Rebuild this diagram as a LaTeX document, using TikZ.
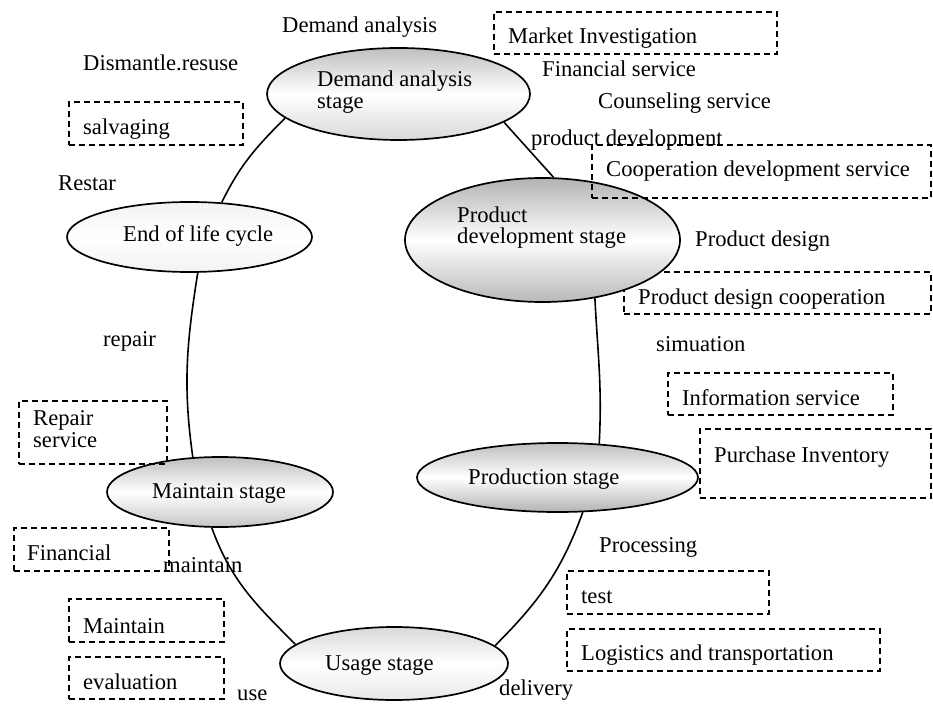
\documentclass[tikz,border=0pt]{standalone}
\usepackage{fontspec}
\setmainfont{Liberation Serif}
\usetikzlibrary{shapes.geometric}
\begin{document}
\begin{tikzpicture}[x=1pt,y=-1pt,
  lbl/.style={inner sep=0pt, anchor=base west, font=\fontsize{22.6}{22}\selectfont},
  mlbl/.style={inner sep=0pt, anchor=north west, align=left, font=\fontsize{22.6}{22}\selectfont},
  stage/.style={ellipse, draw, line width=1.7pt, inner sep=0pt},
  dbox/.style={draw, dash pattern=on 6pt off 4pt, line width=1.7pt, inner sep=0pt, anchor=north west},
  conn/.style={line width=1.6pt}]
\useasboundingbox (0,0) rectangle (933,708);

% box beneath the product development ellipse
\node[dbox, minimum width=307pt, minimum height=42pt] (bD) at (623,271) {};

% stages
\node[stage, minimum width=263pt, minimum height=92pt, top color=gray!50, bottom color=gray!30, middle color=white] (dem) at (398.5,94) {};
\node[stage, minimum width=275pt, minimum height=124pt, top color=gray!60, bottom color=gray!55, middle color=white] (pd) at (542.5,240) {};
\node[stage, minimum width=245pt, minimum height=70pt, top color=gray!10, bottom color=gray!10, middle color=white] (eol) at (189.5,237) {};
\node[stage, minimum width=281pt, minimum height=69pt, top color=gray!50, bottom color=gray!60, middle color=white] (prod) at (557.5,477.5) {};
\node[stage, minimum width=226pt, minimum height=70pt, top color=gray!50, bottom color=gray!45, middle color=white] (mnt) at (220,492) {};
\node[stage, minimum width=228pt, minimum height=73pt, top color=gray!30, bottom color=gray!18, middle color=white] (use) at (394,663.5) {};

% connectors
\draw[conn] (dem.192.7) to[out=225,in=64] (eol.47);
\draw[conn] (eol.283.7) to[out=261,in=98] (mnt.128.7);
\draw[conn] (mnt.257) to[out=290,in=135] (use.169.7);
\draw[conn] (use.10.2) to[out=45,in=250] (prod.306.5);
\draw[conn] (prod.39) to[out=87,in=273] (pd.312.8);
\draw[conn] (dem.345.4) -- (pd.80.4);

% dashed boxes
\node[dbox, minimum width=283pt, minimum height=42pt] (bA) at (493,11) {};
\node[dbox, minimum width=174pt, minimum height=43pt] (bB) at (68,101) {};
\node[dbox, minimum width=339pt, minimum height=53pt] (bC) at (591,144) {};
\node[dbox, minimum width=225pt, minimum height=42pt] (bE) at (667,372) {};
\node[dbox, minimum width=231pt, minimum height=69pt] (bF) at (699,428) {};
\node[dbox, minimum width=202pt, minimum height=43pt] (bG) at (566,570) {};
\node[dbox, minimum width=313pt, minimum height=42pt] (bH) at (566,628) {};
\node[dbox, minimum width=148pt, minimum height=63pt] (bI) at (18,400) {};
\node[dbox, minimum width=155pt, minimum height=43pt] (bJ) at (13,527) {};
\node[dbox, minimum width=155pt, minimum height=43pt] (bK) at (68,598) {};
\node[dbox, minimum width=155pt, minimum height=42pt] (bL) at (68,656) {};

% stage texts
\node[mlbl] (tdem) at (317,70.6) {Demand analysis\\stage};
\node[mlbl, font=\fontsize{22.6}{21}\selectfont] (tpd) at (457,206.6) {Product\\development stage};
\node[lbl] (teol) at (123,242) {End of life cycle};
\node[lbl] (tprod) at (468,484) {Production stage};
\node[lbl] (tmnt) at (152,498) {Maintain stage};
\node[lbl] (tuse) at (325,670) {Usage stage};

% box texts
\node[lbl] (tA) at (508,44) {Market Investigation};
\node[lbl] (tB) at (83,135) {salvaging};
\node[lbl] (tC) at (606,177) {Cooperation development service};
\node[lbl] (tD) at (638,304) {Product design cooperation};
\node[lbl] (tE) at (682,405) {Information service};
\node[lbl] (tF) at (714,462) {Purchase Inventory};
\node[lbl] (tG) at (581,603) {test};
\node[lbl] (tH) at (581,660) {Logistics and transportation};
\node[mlbl] (tI) at (33,410.6) {Repair\\service};
\node[lbl] (tJ) at (27,560) {Financial};
\node[lbl] (tK) at (83,633) {Maintain};
\node[lbl] (tL) at (83,689) {evaluation};

% free labels
\node[lbl] (l1) at (282,33) {Demand analysis};
\node[lbl] (l2) at (83,71) {Dismantle.resuse};
\node[lbl] (l3) at (58,191) {Restar};
\node[lbl] (l4) at (103,346) {repair};
\node[lbl] (l5) at (542,77) {Financial service};
\node[lbl] (l6) at (598,109) {Counseling service};
\node[lbl] (l7) at (531,146) {product development};
\node[lbl] (l8) at (695,247) {Product design};
\node[lbl] (l9) at (656,351) {simuation};
\node[lbl] (l10) at (599,552) {Processing};
\node[lbl] (l11) at (499,695) {delivery};
\node[lbl] (l12) at (237,700) {use};
\node[lbl] (l13) at (163,572) {maintain};
\end{tikzpicture}
\end{document}
